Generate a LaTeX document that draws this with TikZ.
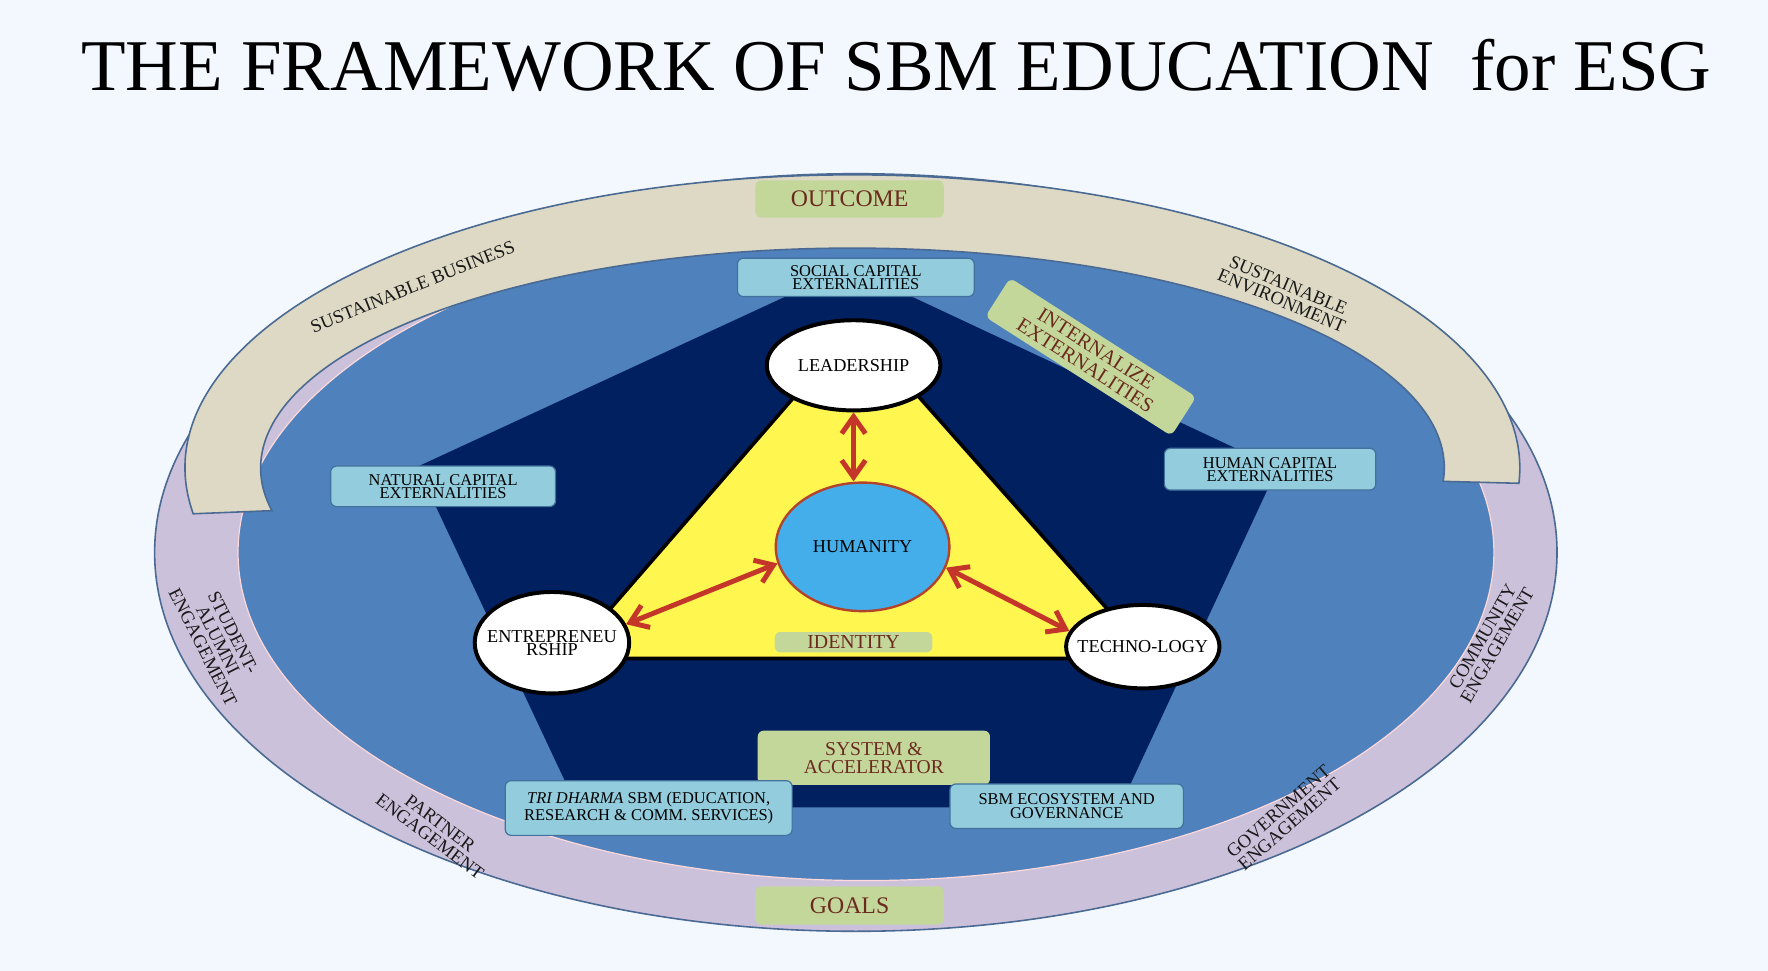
\documentclass[tikz,border=0pt]{standalone}
\usepackage{fontspec}
\setmainfont{Liberation Serif}
\usepackage{xcolor}
\usepackage{tikz}
\usetikzlibrary{arrows.meta, calc, shapes.geometric}

\definecolor{bgblue}{HTML}{F3F8FE}
\definecolor{ringlila}{HTML}{CCC1DA}
\definecolor{ringbeige}{HTML}{DDD9C4}
\definecolor{ringedge}{HTML}{4A6A93}
\definecolor{midblue}{HTML}{4F81BD}
\definecolor{navyblue}{HTML}{002060}
\definecolor{triyellow}{HTML}{FFF64F}
\definecolor{humblue}{HTML}{44AEEB}
\definecolor{humred}{HTML}{B4432C}
\definecolor{arrowred}{HTML}{C4352A}
\definecolor{boxblue}{HTML}{93CDDD}
\definecolor{boxedge}{HTML}{41719C}
\definecolor{boxgreen}{HTML}{C4D79B}
\definecolor{greentext}{HTML}{6B2A1E}

\begin{document}
\begin{tikzpicture}[x=0.02cm, y=-0.02cm,
  bubble/.style={ellipse, draw=black, line width=2pt, fill=white, inner xsep=-7pt, inner ysep=0pt, align=center, font=\fontsize{9.2}{6.6}\selectfont},
  extbox/.style={rectangle, rounded corners=3pt, draw=boxedge, line width=0.6pt, fill=boxblue, align=center, inner sep=1pt, font=\fontsize{8.3}{6.6}\selectfont},
  tagbox/.style={rectangle, rounded corners=3pt, fill=boxgreen, text=greentext, align=center, inner sep=1pt},
  ringtext/.style={align=center, text=black!90, font=\fontsize{9.4}{8.5}\selectfont},
  link/.style={draw=arrowred, line width=2.5pt, {Straight Barb[length=8.5pt,width=12pt]}-{Straight Barb[length=8.5pt,width=12pt]}}]

      % Hintergrund
      \fill[bgblue] (0,0) rectangle (1568,861.1);
      \useasboundingbox (0,0) rectangle (1568,861.1);

      % Titel
      \node[anchor=base, font=\fontsize{36.8}{40}\selectfont] (title) at (795,80.7) {THE FRAMEWORK OF SBM EDUCATION~~for ESG};

      % Ringe
      \filldraw[fill=ringlila, draw=ringedge, line width=0.8pt] (759,490) ellipse [x radius=12.44cm, y radius=6.72cm];
      \filldraw[fill=midblue, draw=pink!60, line width=0.6pt] (768,490) ellipse [x radius=11.14cm, y radius=5.82cm];

      % Fuenfeck
      \fill[navyblue] (753,237) -- (1133,415) -- (993,716) -- (512,716) -- (370,414) -- cycle;

      % Bogen oben
      \coordinate (ac) at (756,415);
      \filldraw[fill=ringbeige, draw=ringedge, line width=0.8pt]
        ($(ac)+(189:11.84cm and 5.2cm)$) arc[start angle=189, end angle=-3, x radius=11.84cm, y radius=5.2cm]
        -- ($(ac)+(-3.5:10.5cm and 3.9cm)$) arc[start angle=-3.5, end angle=191.2, x radius=10.5cm, y radius=3.9cm]
        -- cycle;

      % Dreieck
      \filldraw[fill=triyellow, draw=black, line width=1.8pt] (759,289) -- (1021,584) -- (503,584) -- cycle;

      % Gruene Felder
      \node[tagbox, minimum width=3.34cm, minimum height=0.66cm, font=\fontsize{12}{12}\selectfont] (outcome) at (753.5,176.5) {OUTCOME};
      \node[tagbox, minimum width=3.34cm, minimum height=0.68cm, font=\fontsize{12}{12}\selectfont] (goals) at (753.5,803) {GOALS};
      \node[tagbox, minimum width=4.12cm, minimum height=0.96cm, font=\fontsize{9.9}{9.1}\selectfont] (system) at (775,672) {SYSTEM \&\\ACCELERATOR};
      \node[tagbox, minimum width=2.8cm, minimum height=0.36cm, font=\fontsize{10}{10}\selectfont] (identity) at (757,569.5) {IDENTITY};
      \node[tagbox, rotate=-32.6, minimum width=3.92cm, minimum height=0.82cm, font=\fontsize{10.3}{10}\selectfont] (internal) at (967.3,316.5) {INTERNALIZE\\EXTERNALITIES};

      % Blaue Felder
      \node[extbox, minimum width=4.2cm, minimum height=0.68cm] (social) at (759,246) {SOCIAL CAPITAL\\EXTERNALITIES};
      \node[extbox, minimum width=3.99cm, minimum height=0.72cm] (natural) at (393,431.3) {NATURAL CAPITAL\\EXTERNALITIES};
      \node[extbox, minimum width=3.75cm, minimum height=0.74cm] (human) at (1126.4,416.1) {HUMAN CAPITAL\\EXTERNALITIES};
      \node[extbox, minimum width=5.09cm, minimum height=0.97cm] (tridharma) at (575.3,716.6) {\textit{TRI DHARMA} SBM (EDUCATION,\\RESEARCH \& COMM. SERVICES)};
      \node[extbox, minimum width=4.14cm, minimum height=0.79cm] (ecosystem) at (946,715) {SBM ECOSYSTEM AND\\GOVERNANCE};

      % Ellipsen
      \node[bubble, minimum width=3.08cm, minimum height=1.6cm] (lead) at (757,324) {LEADERSHIP};
      \node[bubble, minimum width=2.74cm, minimum height=1.8cm] (entre) at (489.5,570) {ENTREPRENEU\\RSHIP};
      \node[bubble, minimum width=2.72cm, minimum height=1.48cm] (techno) at (1013.5,573.5) {TECHNO-LOGY};
      \node[bubble, fill=humblue, draw=humred, line width=1.2pt, minimum width=3.08cm, minimum height=2.28cm] (hum) at (765,485) {HUMANITY};

      % Pfeile
      \draw[link] (lead.south) -- (lead.south |- hum.north);
      \draw[link] (entre.14) -- (hum.191);
      \draw[link] (hum.-14) -- (techno.168);

      % Schrift auf den Ringen
      \node[ringtext, rotate=22] (business) at (366,254.3) {SUSTAINABLE BUSINESS};
      \node[ringtext, rotate=-23] (environment) at (1139.6,259.8) {SUSTAINABLE\\ENVIRONMENT};
      \node[ringtext, rotate=-63] (student) at (193.3,567.6) {STUDENT-\\ALUMNI\\ENGAGEMENT};
      \node[ringtext, rotate=-37] (partner) at (385.8,736) {PARTNER\\ENGAGEMENT};
      \node[ringtext, rotate=41] (government) at (1138.7,725.4) {GOVERNMENT\\ENGAGEMENT};
      \node[ringtext, rotate=60] (community) at (1321.4,568.5) {COMMUNITY\\ENGAGEMENT};

\end{tikzpicture}
\end{document}
